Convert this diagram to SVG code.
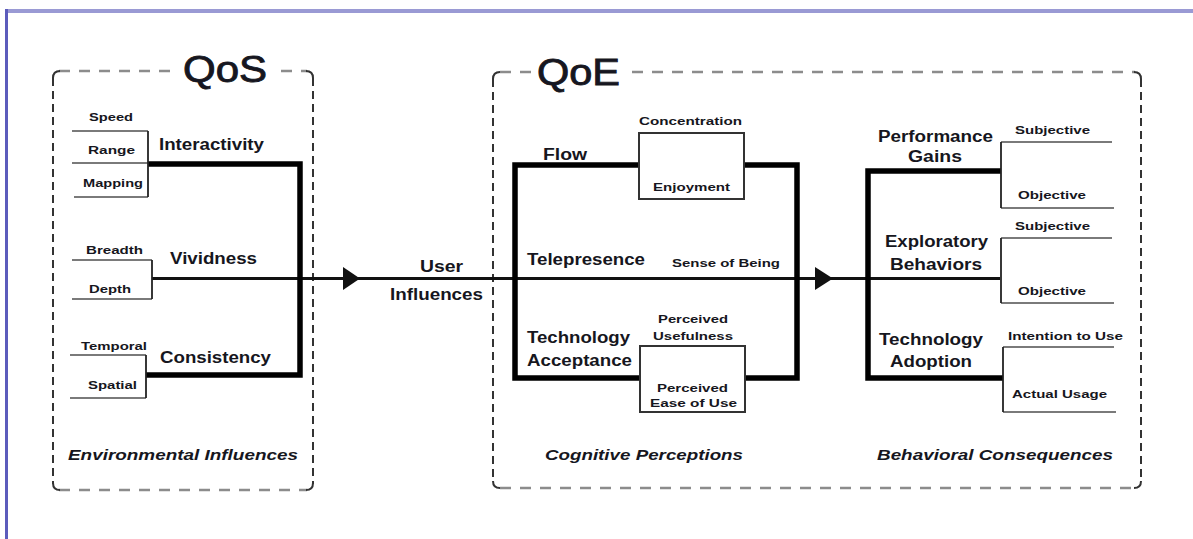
<svg xmlns="http://www.w3.org/2000/svg" width="1193" height="539" viewBox="0 0 1193 539">
  <style>
    text { font-family: "Liberation Sans", Arial, sans-serif; fill: #161620; font-weight: bold; }
    .sm { font-size: 11.5px; }
    .md { font-size: 16px; }
    .lg { font-size: 37px; font-weight: normal; stroke: #161620; stroke-width: 0.9; }
    .cap { font-size: 15.5px; font-style: italic; }
    .hdash { fill: none; stroke: #8c8c8c; stroke-width: 2.5; stroke-dasharray: 11 9; }
    .vdash { fill: none; stroke: #333; stroke-width: 2; stroke-dasharray: 8 5; }
    .corner { fill: none; stroke: #333; stroke-width: 2; }
    .leaf { fill: none; stroke: #7a7a7a; stroke-width: 2; }
    .brk { fill: none; stroke: #222; stroke-width: 1.8; }
    .thick { fill: none; stroke: #000; stroke-width: 5.5; stroke-linejoin: miter; }
    .main { fill: none; stroke: #111; stroke-width: 3; }
    .box { fill: #fff; stroke: #333; stroke-width: 2; }
    .head { fill: #111; }
  </style>

  <rect width="1193" height="539" fill="#fff"/>
  <!-- page frame -->
  <rect x="5" y="9" width="1188" height="4" fill="#9a9ad4"/>
  <rect x="5" y="9" width="3" height="530" fill="#5c5cbc"/>

  <!-- QoS enclosure -->
  <g id="qos">
    <path class="hdash" d="M59 71 H172 M281 71 H307 M59 490 H307"/>
    <path class="vdash" d="M53 78 V484 M313 78 V484"/>
    <path class="corner" d="M53 78 Q53 71 60 71 M306 71 Q313 71 313 78 M53 483 Q53 490 60 490 M313 483 Q313 490 306 490"/>
    <text class="lg" x="183" y="82" textLength="84" lengthAdjust="spacingAndGlyphs">QoS</text>
    <text class="cap" x="68" y="460" textLength="230" lengthAdjust="spacingAndGlyphs">Environmental Influences</text>
  </g>

  <!-- QoE enclosure -->
  <g id="qoe">
    <path class="hdash" d="M500 72 H531 M632 72 H1135 M500 488 H1135"/>
    <path class="vdash" d="M493 79 V482 M1141 79 V482"/>
    <path class="corner" d="M493 79 Q493 72 500 72 M1134 72 Q1141 72 1141 79 M493 481 Q493 488 500 488 M1141 481 Q1141 488 1134 488"/>
    <text class="lg" x="537" y="85" textLength="83" lengthAdjust="spacingAndGlyphs">QoE</text>
    <text class="cap" x="545" y="460" textLength="198" lengthAdjust="spacingAndGlyphs">Cognitive Perceptions</text>
    <text class="cap" x="877" y="460" textLength="236" lengthAdjust="spacingAndGlyphs">Behavioral Consequences</text>
  </g>

  <!-- connectors -->
  <g id="connectors">
    <path class="main" d="M152 278.5 H1000"/>
    <path class="head" d="M343 267 L360 278.5 L343 290 Z"/>
    <path class="head" d="M815 267 L833 278.5 L815 290 Z"/>
    <path class="thick" d="M148 164 H300 V375 H146"/>
    <path class="thick" d="M639 165 H515 V378 H640"/>
    <path class="thick" d="M744 165 H797 V378 H745"/>
    <path class="thick" d="M1001 171 H868 V378 H1003"/>
  </g>

  <!-- Interactivity -->
  <g id="interactivity">
    <path class="leaf" d="M72 131 H148 M72 163 H148 M74 197 H148"/>
    <path class="brk" d="M148 131 V197"/>
    <text class="sm" x="89" y="121" textLength="44" lengthAdjust="spacingAndGlyphs">Speed</text>
    <text class="sm" x="88" y="154" textLength="47" lengthAdjust="spacingAndGlyphs">Range</text>
    <text class="sm" x="83" y="187" textLength="60" lengthAdjust="spacingAndGlyphs">Mapping</text>
    <text class="md" x="159" y="150" textLength="105" lengthAdjust="spacingAndGlyphs">Interactivity</text>
  </g>

  <!-- Vividness -->
  <g id="vividness">
    <path class="leaf" d="M72 260 H152 M72 299 H152"/>
    <path class="brk" d="M152 260 V299"/>
    <text class="sm" x="86" y="254" textLength="57" lengthAdjust="spacingAndGlyphs">Breadth</text>
    <text class="sm" x="89" y="293" textLength="42" lengthAdjust="spacingAndGlyphs">Depth</text>
    <text class="md" x="170" y="264" textLength="87" lengthAdjust="spacingAndGlyphs">Vividness</text>
  </g>

  <!-- Consistency -->
  <g id="consistency">
    <path class="leaf" d="M70 355 H146 M70 398 H146"/>
    <path class="brk" d="M146 355 V398"/>
    <text class="sm" x="81" y="350" textLength="66" lengthAdjust="spacingAndGlyphs">Temporal</text>
    <text class="sm" x="88" y="389" textLength="49" lengthAdjust="spacingAndGlyphs">Spatial</text>
    <text class="md" x="160" y="363" textLength="111" lengthAdjust="spacingAndGlyphs">Consistency</text>
  </g>

  <!-- User Influences -->
  <g id="user-influences">
    <text class="md" x="420" y="272" textLength="43" lengthAdjust="spacingAndGlyphs">User</text>
    <text class="md" x="390" y="300" textLength="93" lengthAdjust="spacingAndGlyphs">Influences</text>
  </g>

  <!-- Flow -->
  <g id="flow">
    <rect class="box" x="639" y="133" width="105" height="66"/>
    <text class="md" x="543" y="160" textLength="44" lengthAdjust="spacingAndGlyphs">Flow</text>
    <text class="sm" x="639" y="125" textLength="103" lengthAdjust="spacingAndGlyphs">Concentration</text>
    <text class="sm" x="653" y="191" textLength="77" lengthAdjust="spacingAndGlyphs">Enjoyment</text>
  </g>

  <!-- Telepresence -->
  <g id="telepresence">
    <text class="md" x="527" y="265" textLength="118" lengthAdjust="spacingAndGlyphs">Telepresence</text>
    <text class="sm" x="672" y="267" textLength="108" lengthAdjust="spacingAndGlyphs">Sense of Being</text>
  </g>

  <!-- Technology Acceptance -->
  <g id="technology-acceptance">
    <rect class="box" x="640" y="346" width="105" height="66"/>
    <text class="md" x="527" y="343" textLength="103" lengthAdjust="spacingAndGlyphs">Technology</text>
    <text class="md" x="527" y="366" textLength="105" lengthAdjust="spacingAndGlyphs">Acceptance</text>
    <text class="sm" x="658" y="323" textLength="70" lengthAdjust="spacingAndGlyphs">Perceived</text>
    <text class="sm" x="653" y="340" textLength="80" lengthAdjust="spacingAndGlyphs">Usefulness</text>
    <text class="sm" x="657" y="392" textLength="71" lengthAdjust="spacingAndGlyphs">Perceived</text>
    <text class="sm" x="650" y="407" textLength="87" lengthAdjust="spacingAndGlyphs">Ease of Use</text>
  </g>

  <!-- Performance Gains -->
  <g id="performance-gains">
    <path class="leaf" d="M1001 142 H1112 M1001 208 H1114"/>
    <path class="brk" d="M1001 142 V208"/>
    <text class="md" x="878" y="142" textLength="115" lengthAdjust="spacingAndGlyphs">Performance</text>
    <text class="md" x="908" y="162" textLength="54" lengthAdjust="spacingAndGlyphs">Gains</text>
    <text class="sm" x="1015" y="134" textLength="75" lengthAdjust="spacingAndGlyphs">Subjective</text>
    <text class="sm" x="1018" y="199" textLength="68" lengthAdjust="spacingAndGlyphs">Objective</text>
  </g>

  <!-- Exploratory Behaviors -->
  <g id="exploratory-behaviors">
    <path class="leaf" d="M1001 238 H1112 M1001 303 H1114"/>
    <path class="brk" d="M1001 238 V303"/>
    <text class="md" x="885" y="247" textLength="103" lengthAdjust="spacingAndGlyphs">Exploratory</text>
    <text class="md" x="890" y="270" textLength="92" lengthAdjust="spacingAndGlyphs">Behaviors</text>
    <text class="sm" x="1015" y="230" textLength="75" lengthAdjust="spacingAndGlyphs">Subjective</text>
    <text class="sm" x="1018" y="295" textLength="68" lengthAdjust="spacingAndGlyphs">Objective</text>
  </g>

  <!-- Technology Adoption -->
  <g id="technology-adoption">
    <path class="leaf" d="M1003 347 H1114 M1003 412 H1116"/>
    <path class="brk" d="M1003 347 V412"/>
    <text class="md" x="879" y="345" textLength="104" lengthAdjust="spacingAndGlyphs">Technology</text>
    <text class="md" x="890" y="367" textLength="82" lengthAdjust="spacingAndGlyphs">Adoption</text>
    <text class="sm" x="1008" y="340" textLength="115" lengthAdjust="spacingAndGlyphs">Intention to Use</text>
    <text class="sm" x="1012" y="398" textLength="95" lengthAdjust="spacingAndGlyphs">Actual Usage</text>
  </g>
</svg>
